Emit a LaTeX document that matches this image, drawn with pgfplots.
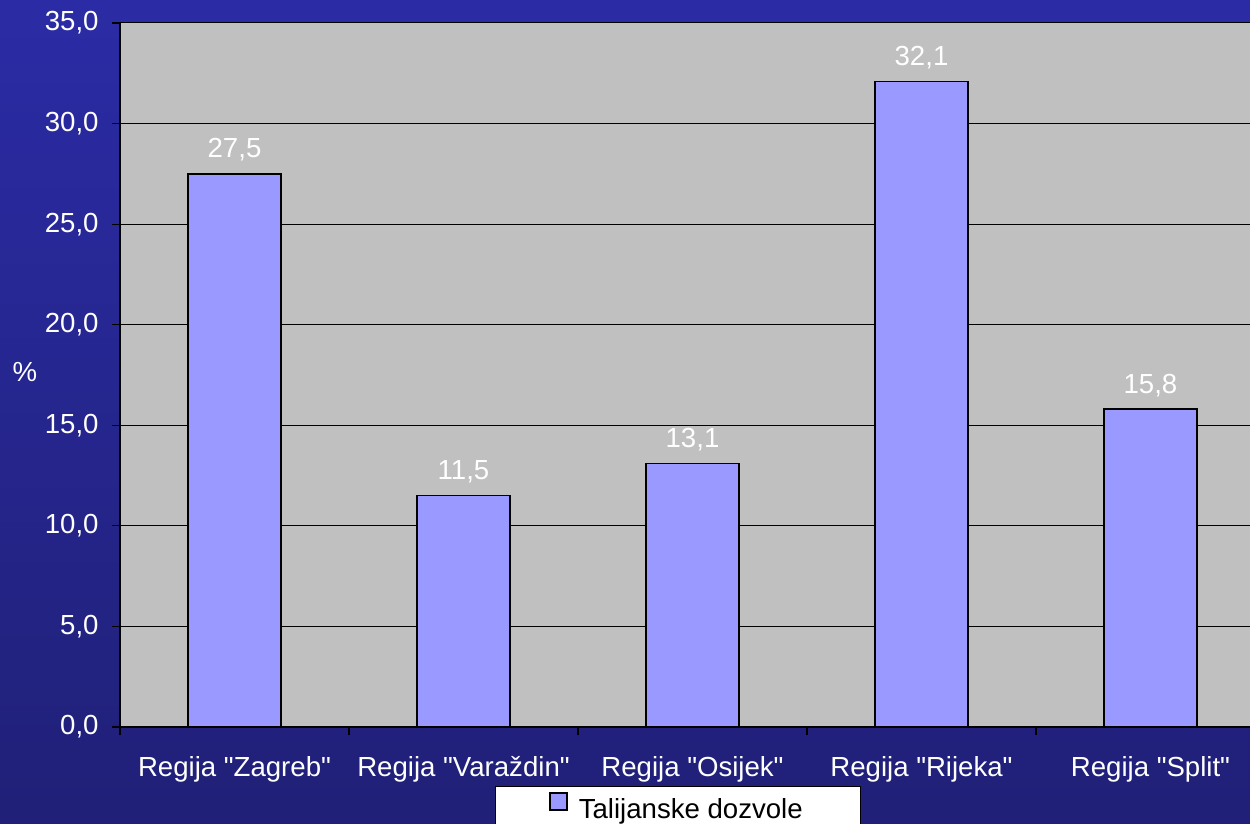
\documentclass[border=0pt]{standalone}
\usepackage{fontspec}
\setmainfont{Liberation Sans}
\usepackage{pgfplots}
\pgfplotsset{compat=1.18}
\definecolor{bgtop}{RGB}{43,43,165}
\definecolor{bgmid}{RGB}{52,52,200}
\definecolor{bgbot}{RGB}{32,32,120}
\definecolor{plotbg}{RGB}{192,192,192}
\definecolor{barfill}{RGB}{153,153,255}
\newcommand{\q}{\textquotedbl}
\begin{document}
\begin{tikzpicture}[font=\fontsize{13.8}{16}\selectfont]
  % page = 1250x824 px at 0.5pt per px
  \path[use as bounding box] (0,0) rectangle (625pt,412pt);
  \shade[top color=bgtop, middle color=bgmid, bottom color=bgbot] (0,0) rectangle (625pt,412pt);
  \clip (0,0) rectangle (625pt,412pt);
  \begin{axis}[
      scale only axis, width=572.5pt, height=352pt,
      at={(60pt,48.5pt)}, anchor=south west,
      xmin=-0.5, xmax=4.5, ymin=0, ymax=35,
      axis background/.style={fill=plotbg},
      axis lines*=left,
      axis line style={black, line width=0.8pt},
      ytick={0,5,...,35},
      ymajorgrids, major grid style={black, line width=0.5pt},
      xtick={0,...,4},
      xticklabels={Regija \q Zagreb\q, Regija \q Varaždin\q, Regija \q Osijek\q, Regija \q Rijeka\q, Regija \q Split\q},
      minor xtick={-0.5,0.5,...,4.5},
      major x tick style={draw=none},
      tick align=outside, tick style={black, line width=0.6pt},
      major tick length=4pt, minor tick length=4pt,
      /pgf/number format/.cd, fixed, fixed zerofill, precision=1, use comma, assume math mode=true,
      /pgfplots/.cd,
      ticklabel style={text=white},
      yticklabel style={anchor=east, inner sep=0pt, xshift=-6.5pt},
      xticklabel style={anchor=north, inner sep=0pt, yshift=-10.5pt},
      ylabel={\%},
      ylabel style={rotate=-90, text=white, at={(axis description cs:-0.083,0.504)}, anchor=center},
      nodes near coords,
      nodes near coords style={text=white, anchor=base, inner sep=0pt, yshift=8pt},
      legend style={at={(0.4873,-0.0838)}, anchor=north, draw=black, fill=white, text=black,
        inner xsep=27pt, inner ysep=3pt},
      legend image code/.code={\draw[#1] (0pt,0pt) rectangle (8.5pt,8.5pt); \path (12pt,0pt);},
    ]
    \addplot[ybar, bar width=46.5pt, fill=barfill, draw=black, line width=0.8pt]
      coordinates {(0,27.5) (1,11.5) (2,13.1) (3,32.1) (4,15.8)};
    \addlegendentry{Talijanske dozvole}
  \end{axis}
\end{tikzpicture}
\end{document}
